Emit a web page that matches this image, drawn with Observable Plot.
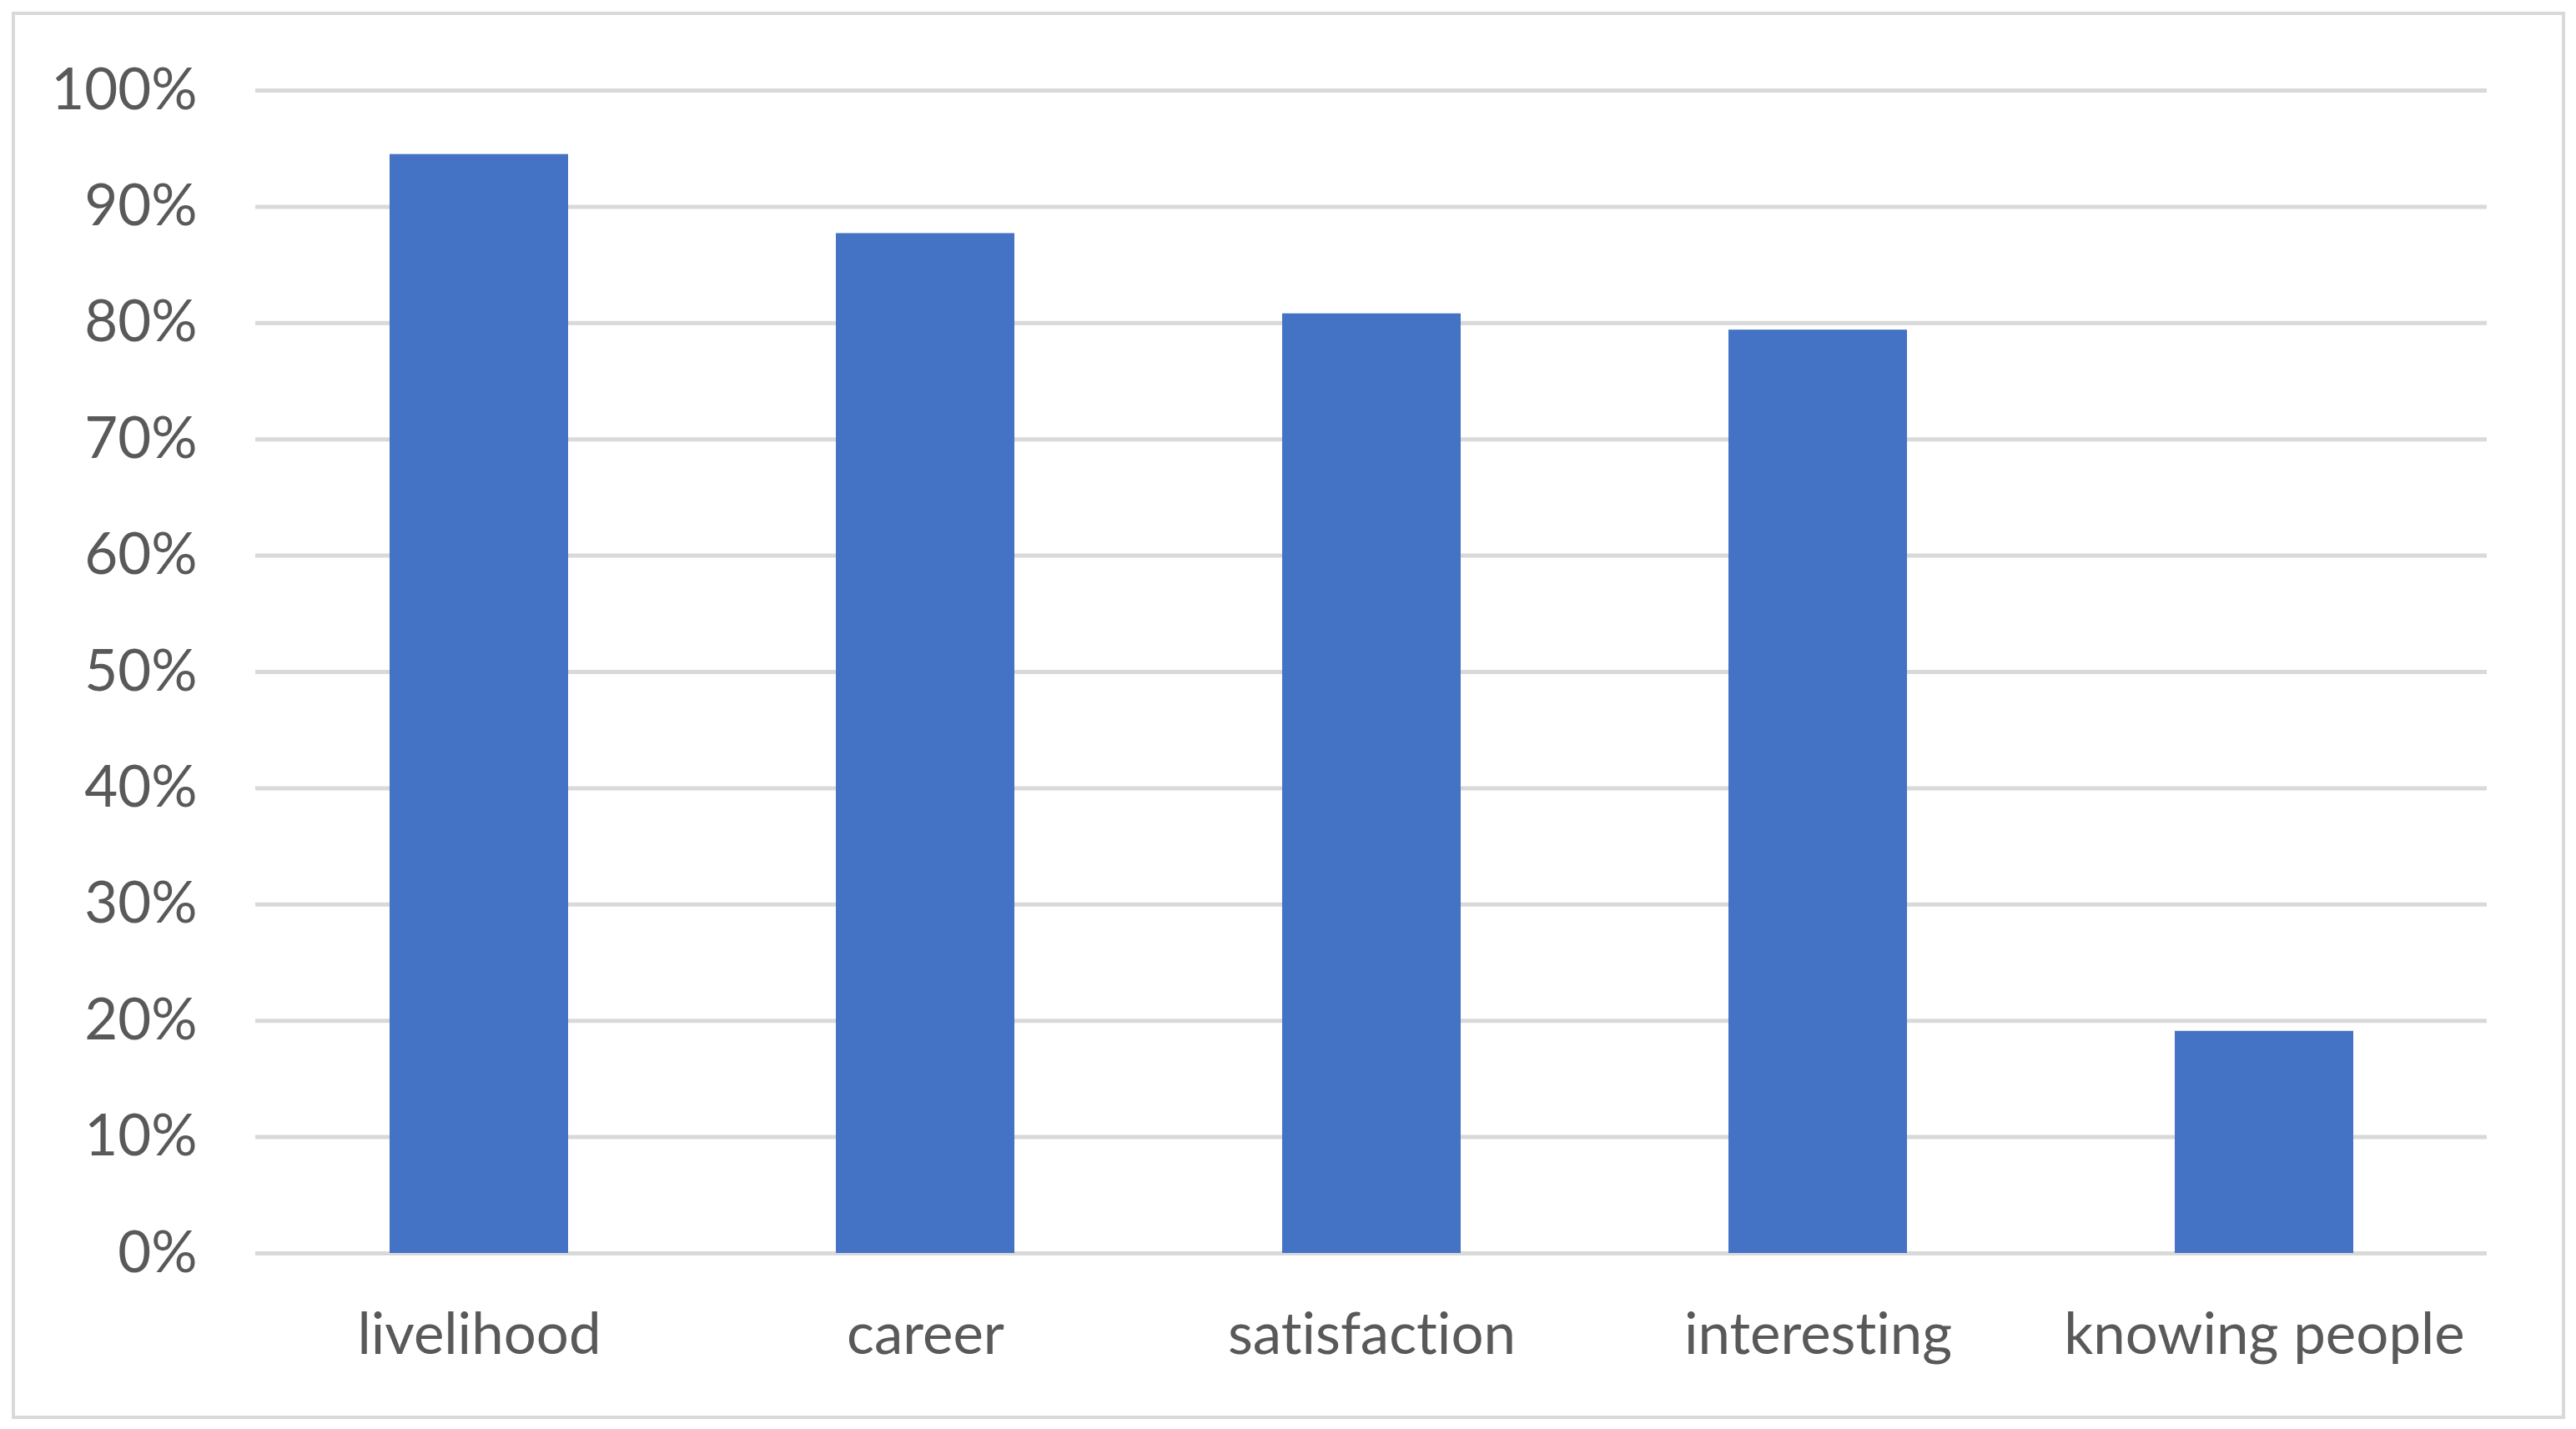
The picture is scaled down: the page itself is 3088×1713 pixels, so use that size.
<!DOCTYPE html>
<html>
<head>
<meta charset="utf-8">
<script src="https://cdn.jsdelivr.net/npm/d3@7"></script>
<script src="https://cdn.jsdelivr.net/npm/@observablehq/plot@0.6"></script>
<style>
  html, body { margin: 0; padding: 0; background: #fff; }
  #wrap { position: relative; width: 3088px; height: 1713px; overflow: hidden; }
  #wrap svg text { font-variant-ligatures: none; font-feature-settings: "liga" 0; }
  #border { position: absolute; left: 14px; top: 14px; width: 3053px; height: 1679px;
            border: 4px solid #d9d9d9; pointer-events: none; }
</style>
</head>
<body>
<div id="wrap"><div id="border"></div></div>
<script>
const categories = ["livelihood", "career", "satisfaction", "interesting", "knowing people"];
const values = [94.5, 87.7, 80.8, 79.4, 19.1];
const yTicks = [0, 10, 20, 30, 40, 50, 60, 70, 80, 90, 100];

const data = categories.map((c, i) => ({category: c, value: values[i]}));

const chart = Plot.plot({
  width: 3088,
  height: 1713,
  marginLeft: 306,
  marginRight: 107,
  marginTop: 108,
  marginBottom: 211,
  style: {fontFamily: "Lato, 'Open Sans', sans-serif", fontSize: "69px", color: "#595959", background: "transparent"},
  x: {domain: categories, paddingInner: 0.6, paddingOuter: 0.3, label: null, tickSize: 0, tickPadding: 71},
  y: {domain: [0, 100], ticks: yTicks, tickFormat: d => d + "%", label: null, tickSize: 0, tickPadding: 70},
  marks: [
    Plot.ruleY(yTicks, {stroke: "#d9d9d9", strokeWidth: 5}),
    Plot.barY(data, {x: "category", y: "value", fill: "#4472c4"})
  ]
});
document.getElementById("wrap").prepend(chart);
</script>
</body>
</html>
